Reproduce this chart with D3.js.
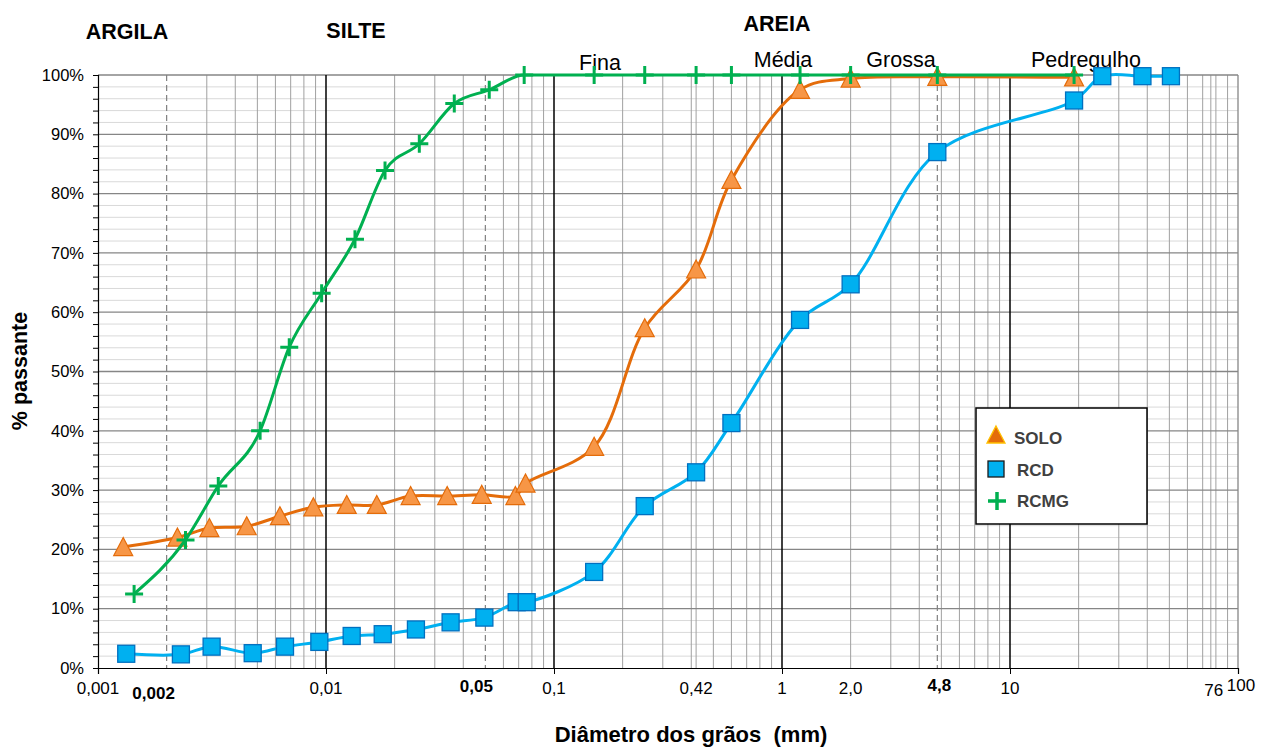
<!DOCTYPE html>
<html>
<head>
<meta charset="utf-8">
<script src="https://cdn.jsdelivr.net/npm/d3@7/dist/d3.min.js"></script>
<style>
  html, body { margin: 0; padding: 0; background: #ffffff; }
  svg { display: block; font-family: "Liberation Sans", Arial, sans-serif; }
  text { white-space: pre; }
</style>
</head>
<body>
<svg id="chart" width="1267" height="747"></svg>
<script>
// ---------------- DATA ----------------
const soloDiam = [0.00129, 0.00223, 0.00308, 0.00449, 0.00628, 0.0088, 0.01233, 0.0167, 0.0235, 0.034, 0.0482, 0.0677, 0.075, 0.15, 0.25, 0.42, 0.6, 1.2, 2.0, 4.8, 19.1];
const soloPass = [20.4, 22.0, 23.6, 23.9, 25.6, 27.1, 27.5, 27.5, 29.0, 29.0, 29.2, 29.0, 31.1, 37.3, 57.3, 67.2, 82.3, 97.5, 99.4, 99.7, 99.6];

const rcdDiam = [0.00133, 0.00231, 0.00315, 0.00477, 0.00661, 0.00935, 0.01296, 0.01773, 0.0248, 0.0352, 0.0495, 0.0686, 0.0759, 0.15, 0.25, 0.42, 0.6, 1.2, 2.0, 4.8, 19.1, 25.4, 38.1, 50.8];
const rcdPass = [2.4, 2.3, 3.6, 2.5, 3.6, 4.4, 5.4, 5.7, 6.5, 7.7, 8.5, 11.1, 11.1, 16.2, 27.3, 33.0, 41.3, 58.7, 64.7, 87.0, 95.7, 99.8, 99.8, 99.8];

const rcmgDiam = [0.00144, 0.00242, 0.00337, 0.00514, 0.0069, 0.00957, 0.0134, 0.01815, 0.02566, 0.03653, 0.052, 0.074, 0.15, 0.25, 0.42, 0.6, 1.2, 2.0, 4.8, 19.1];
const rcmgPass = [12.5, 21.6, 30.7, 40.0, 54.1, 63.2, 72.3, 83.9, 88.4, 95.2, 97.5, 100, 100, 100, 100, 100, 100, 100, 100, 100];

const seriesNames = ["SOLO", "RCD", "RCMG"];

const xTickValues = [0.001, 0.002, 0.01, 0.05, 0.1, 0.42, 1, 2, 4.8, 10, 76, 100];
const xTickLabels = ["0,001", "0,002", "0,01", "0,05", "0,1", "0,42", "1", "2,0", "4,8", "10", "76", "100"];
const boldTickLabels = ["0,002", "0,05", "4,8"];

const yTickValues = [0, 10, 20, 30, 40, 50, 60, 70, 80, 90, 100];
const yTickLabels = ["0%", "10%", "20%", "30%", "40%", "50%", "60%", "70%", "80%", "90%", "100%"];

const dashedLines = [0.002, 0.05, 4.8];
const extraLines = [0.42, 76];

const classLabels = ["ARGILA", "SILTE", "AREIA"];
const sandLabels = ["Fina", "Média", "Grossa", "Pedregulho"];

const xTitle = "Diâmetro dos grãos  (mm)";
const yTitle = "% passante";

// ---------------- LAYOUT ----------------
const svg = d3.select("#chart");
const pL = 98, pR = 1238, pT = 75, pB = 668;

const x = d3.scaleLog().domain([0.001, 100]).range([pL, pR]);
const y = d3.scaleLinear().domain([0, 100]).range([pB, pT]);

const grid = svg.append("g");

// horizontal minor grid (every 2%)
const minorY = d3.range(0, 101, 2).filter(v => v % 10 !== 0);
grid.selectAll("line.hmin").data(minorY).enter().append("line")
  .attr("x1", pL).attr("x2", pR)
  .attr("y1", d => y(d)).attr("y2", d => y(d))
  .attr("stroke", "#d9d9d9").attr("stroke-width", 1);

// vertical minor grid
const minorX = [];
[0.001, 0.01, 0.1, 1, 10].forEach(dec => {
  for (let k = 2; k <= 9; k++) minorX.push(dec * k);
});
const solidMinor = minorX.filter(v => !dashedLines.some(d => Math.abs(d - v) / d < 1e-6));
grid.selectAll("line.vmin").data(solidMinor.concat(extraLines)).enter().append("line")
  .attr("x1", d => x(d)).attr("x2", d => x(d))
  .attr("y1", pT).attr("y2", pB)
  .attr("stroke", "#a0a0a0").attr("stroke-width", 1);

// horizontal major grid
grid.selectAll("line.hmaj").data(yTickValues.filter(v => v > 0)).enter().append("line")
  .attr("x1", pL).attr("x2", pR)
  .attr("y1", d => y(d)).attr("y2", d => y(d))
  .attr("stroke", "#868686").attr("stroke-width", 1.3);

// dashed lines
grid.selectAll("line.vdash").data(dashedLines).enter().append("line")
  .attr("x1", d => x(d)).attr("x2", d => x(d))
  .attr("y1", pT).attr("y2", pB)
  .attr("stroke", "#808080").attr("stroke-width", 1.2)
  .attr("stroke-dasharray", "6,4");

// decade lines
grid.selectAll("line.vdec").data([0.01, 0.1, 1, 10]).enter().append("line")
  .attr("x1", d => x(d)).attr("x2", d => x(d))
  .attr("y1", pT).attr("y2", pB)
  .attr("stroke", "#000000").attr("stroke-width", 1.5);

// right border
grid.append("line").attr("x1", pR).attr("x2", pR).attr("y1", pT).attr("y2", pB)
  .attr("stroke", "#868686").attr("stroke-width", 1.3);

// ---------------- AXES ----------------
const yAxis = d3.axisLeft(y).tickValues(d3.range(0, 101, 2)).tickSize(5).tickFormat("");
const yg = svg.append("g").attr("transform", `translate(${pL},0)`).call(yAxis);
yg.select(".domain").attr("stroke", "#000").attr("stroke-width", 1.2);
yg.selectAll(".tick line").attr("stroke", "#000");

yTickValues.forEach((v, i) => {
  svg.append("text").attr("x", pL - 14).attr("y", y(v)).attr("dy", "0.35em")
    .attr("text-anchor", "end").attr("font-size", 16.5).attr("fill", "#000")
    .text(yTickLabels[i]);
});

const xAxis = d3.axisBottom(x).tickValues([0.001, 0.01, 0.1, 1, 10, 100]).tickSize(6).tickFormat("");
const xg = svg.append("g").attr("transform", `translate(0,${pB})`).call(xAxis);
xg.select(".domain").attr("stroke", "#000").attr("stroke-width", 1.2);
xg.selectAll(".tick line").attr("stroke", "#000");

const labelShift = { "0,002": [-13, 25], "0,05": [-9, 18], "4,8": [2, 17], "76": [3, 22], "100": [3, 17] };
xTickValues.forEach((v, i) => {
  const lab = xTickLabels[i];
  const sh = labelShift[lab] || [0, 20];
  svg.append("text").attr("x", x(v) + sh[0]).attr("y", pB + sh[1] + 6)
    .attr("text-anchor", "middle").attr("font-size", 17)
    .attr("font-weight", boldTickLabels.includes(lab) ? "bold" : "normal")
    .attr("fill", "#000").text(lab);
});

// titles
svg.append("text").attr("x", 691).attr("y", 742).attr("text-anchor", "middle")
  .attr("font-size", 22).attr("font-weight", "bold").attr("fill", "#000").text(xTitle);
svg.append("text").attr("transform", `translate(27,371) rotate(-90)`).attr("text-anchor", "middle")
  .attr("font-size", 21.5).attr("font-weight", "bold").attr("fill", "#000").text(yTitle);

// class labels
const classPos = [[127, 39], [356, 38], [777, 31]];
classLabels.forEach((t, i) => {
  svg.append("text").attr("x", classPos[i][0]).attr("y", classPos[i][1]).attr("text-anchor", "middle")
    .attr("font-size", 21.5).attr("font-weight", "bold").attr("fill", "#000").text(t);
});
const sandPos = [[600, 70], [783, 67], [901, 67], [1086, 67]];
sandLabels.forEach((t, i) => {
  svg.append("text").attr("x", sandPos[i][0]).attr("y", sandPos[i][1]).attr("text-anchor", "middle")
    .attr("font-size", 21.5).attr("fill", "#000").text(t);
});

// ---------------- SERIES ----------------
const zip = (a, b) => a.map((v, i) => [v, b[i]]);
const mkLine = curve => d3.line().x(d => x(d[0])).y(d => y(d[1])).curve(curve);

const triPath = "M0,-9.5L9.5,8.5L-9.5,8.5Z";
const plusPath = "M-9,0H9M0,-9V9";

function drawSeries(data, color, width, curve, markerFn) {
  const g = svg.append("g");
  g.append("path").datum(data).attr("d", mkLine(curve)).attr("fill", "none")
    .attr("stroke", color).attr("stroke-width", width).attr("stroke-linejoin", "round");
  const m = g.selectAll("g.m").data(data).enter().append("g")
    .attr("transform", d => `translate(${x(d[0])},${y(d[1])})`);
  markerFn(m);
}

drawSeries(zip(soloDiam, soloPass), "#E46C0A", 3, d3.curveCatmullRom.alpha(0.5), m =>
  m.append("path").attr("d", triPath).attr("fill", "#F79646").attr("stroke", "#E46C0A").attr("stroke-width", 1.2));

drawSeries(zip(rcmgDiam, rcmgPass), "#00B050", 3, d3.curveMonotoneX, m =>
  m.append("path").attr("d", plusPath).attr("fill", "none").attr("stroke", "#00B050").attr("stroke-width", 3));

drawSeries(zip(rcdDiam, rcdPass), "#00B0F0", 3, d3.curveCatmullRom.alpha(0.5), m =>
  m.append("rect").attr("x", -8.5).attr("y", -8.5).attr("width", 17).attr("height", 17)
    .attr("fill", "#00B0F0").attr("stroke", "#0070C0").attr("stroke-width", 1.3));

// ---------------- LEGEND ----------------
const lg = svg.append("g").attr("transform", "translate(976,408)");
lg.append("rect").attr("width", 171).attr("height", 116).attr("fill", "#fff")
  .attr("stroke", "#000").attr("stroke-width", 1.5);
const legY = [30, 62, 93];
lg.append("path").attr("d", "M0,-9L9,8L-9,8Z").attr("transform", `translate(20,${legY[0] - 3})`)
  .attr("fill", "#E46C0A").attr("stroke", "#FFC000").attr("stroke-width", 1.3);
lg.append("rect").attr("x", 12).attr("y", legY[1] - 9).attr("width", 16).attr("height", 16)
  .attr("fill", "#00B0F0").attr("stroke", "#1a1a1a").attr("stroke-width", 1.3);
lg.append("path").attr("d", "M-9,0H9M0,-9V9").attr("transform", `translate(21,${legY[2]})`)
  .attr("stroke", "#00B050").attr("stroke-width", 3.5).attr("fill", "none");
const legX = [38, 41, 41];
seriesNames.forEach((n, i) => {
  lg.append("text").attr("x", legX[i]).attr("y", legY[i]).attr("dy", "0.35em")
    .attr("font-size", 17).attr("font-weight", "bold").attr("fill", "#404040").text(n);
});
</script>
</body>
</html>
